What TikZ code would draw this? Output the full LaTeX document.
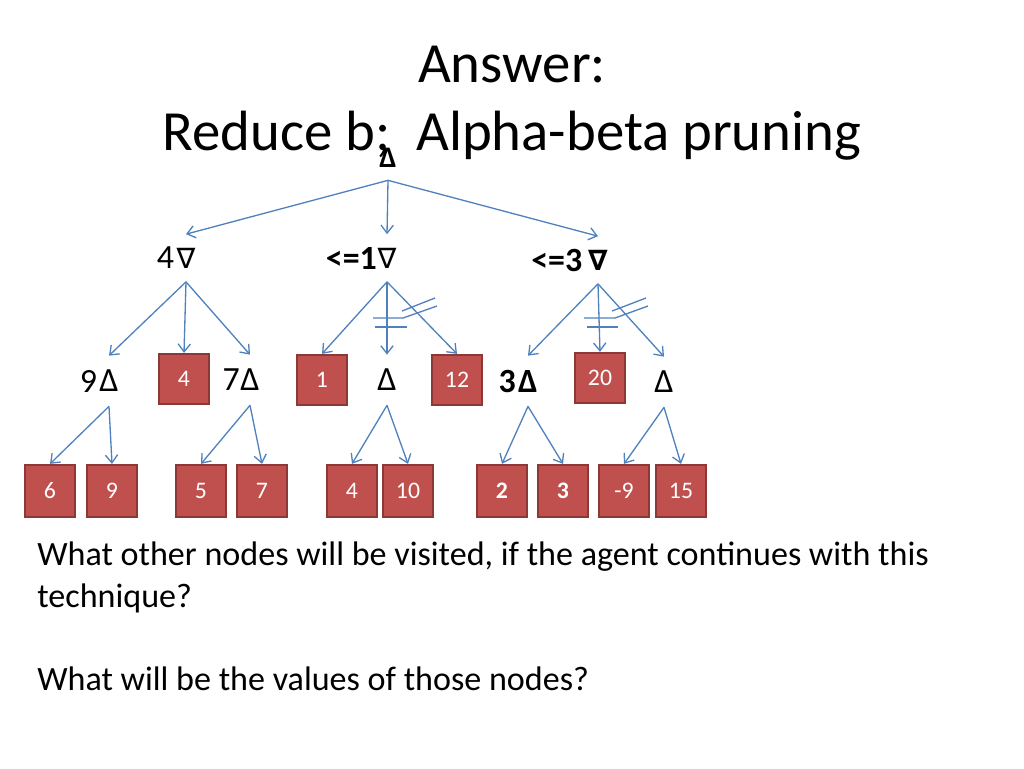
\documentclass[tikz,border=0pt]{standalone}
\usepackage{fontspec}
\setmainfont{Carlito}
\newfontfamily\symfont{DejaVu Sans}
\usetikzlibrary{arrows.meta}

\definecolor{boxred}{HTML}{C0504D}
\definecolor{boxedge}{HTML}{8C3836}
\definecolor{edgeblue}{HTML}{4F81BD}
\newcommand{\nablasym}{{\symfont\fontsize{16}{16}\selectfont\char"2207}}

\begin{document}
\begin{tikzpicture}[x=0.02cm, y=-0.02cm,
	leaf/.style={rectangle, draw=boxedge, fill=boxred, line width=1.3pt, minimum width=1cm, minimum height=1cm, text=white, font=\fontsize{13.5}{15}\selectfont},
	sym/.style={inner sep=0pt, minimum height=1cm, font=\fontsize{19.3}{22}\selectfont},
	num/.style={inner sep=1pt, font=\fontsize{19.3}{22}\selectfont},
	edge/.style={draw=edgeblue, line width=0.75pt, -{Straight Barb[length=4.5pt,width=7pt]}},
	cut/.style={draw=edgeblue, line width=0.75pt}]
	\useasboundingbox (0,0) rectangle (1024,768);
	
	% title
	\node[anchor=base, font=\fontsize{32.3}{38}\selectfont] (ttl1) at (512,82) {Answer:};
	\node[anchor=base, font=\fontsize{32.3}{38}\selectfont] (ttl2) at (512,150) {Reduce b;~~Alpha-beta pruning};
	
	% tree
	\node[sym, minimum height=0.88cm, font=\fontsize{17}{20}\selectfont\bfseries] (root) at (388,158) {Δ};
	
	\node[sym, minimum height=0.94cm, label={[num]left:4}] (min1) at (186,258) {\nablasym};
	\node[sym, minimum height=0.94cm, label={[num, font=\fontsize{19.3}{22}\selectfont\bfseries, inner sep=0pt]left:<=1}] (min2) at (387,258) {\nablasym};
	\node[sym, minimum height=0.94cm, label={[num, font=\fontsize{19.3}{22}\selectfont\bfseries, inner sep=3pt]left:<=3}] (min3) at (598,260) {\bfseries\nablasym};
	
	\node[sym, label={[num]left:9}] (max1) at (109,381) {Δ};
	\node[leaf] (b4) at (184,379) {4};
	\node[sym, label={[num, inner sep=0pt]left:7}] (max2) at (250,380) {Δ};
	\node[leaf] (b1) at (322,380) {1};
	\node[sym] (max3) at (387,380) {Δ};
	\node[leaf] (b12) at (457,380) {12};
	\node[sym, font=\fontsize{19.3}{22}\selectfont\bfseries, label={[num, font=\fontsize{19.3}{22}\selectfont\bfseries]left:3}] (max4) at (528,381) {Δ};
	\node[leaf] (b20) at (600,378) {20};
	\node[sym] (max5) at (664,382) {Δ};
	
	\node[leaf, minimum height=1.04cm] (l6) at (50,491) {6};
	\node[leaf, minimum height=1.04cm] (l9) at (112,491) {9};
	\node[leaf, minimum height=1.04cm] (l5) at (201,491) {5};
	\node[leaf, minimum height=1.04cm] (l7) at (262,491) {7};
	\node[leaf, minimum height=1.04cm] (l4) at (352,491) {4};
	\node[leaf, minimum height=1.04cm] (l10) at (408,491) {10};
	\node[leaf, minimum height=1.04cm, font=\fontsize{13.5}{15}\selectfont\bfseries] (l2) at (502,491) {2};
	\node[leaf, minimum height=1.04cm, font=\fontsize{13.5}{15}\selectfont\bfseries] (l3) at (563,491) {3};
	\node[leaf, minimum height=1.04cm] (lm9) at (624,491) {-9};
	\node[leaf, minimum height=1.04cm] (l15) at (681,491) {15};
	
	\draw[edge] (root.south) -- (min1.north);
	\draw[edge] (root.south) -- (min2.north);
	\draw[edge] (root.south) -- (min3.north);
	
	\draw[edge] (min1.south) -- (max1.north);
	\draw[edge] (min1.south) -- (b4.north);
	\draw[edge] (min1.south) -- (max2.north);
	\draw[edge] (min2.south) -- (b1.north);
	\draw[edge] (min2.south) -- (max3.north);
	\draw[edge] (min2.south) -- (b12.north);
	\draw[edge] (min3.south) -- (max4.north);
	\draw[edge] (min3.south) -- (b20.north);
	\draw[edge] (min3.south) -- (max5.north);
	
	\draw[edge] (max1.south) -- (l6.north);
	\draw[edge] (max1.south) -- (l9.north);
	\draw[edge] (max2.south) -- (l5.north);
	\draw[edge] (max2.south) -- (l7.north);
	\draw[edge] (max3.south) -- (l4.north);
	\draw[edge] (max3.south) -- (l10.north);
	\draw[edge] (max4.south) -- (l2.north);
	\draw[edge] (max4.south) -- (l3.north);
	\draw[edge] (max5.south) -- (lm9.north);
	\draw[edge] (max5.south) -- (l15.north);
	
	% pruned branches
	\draw[cut] (373,318) -- (403,318) -- (437,306);
	\draw[cut] (375,327) -- (407,327);
	\draw[cut] (402,311) -- (435,298);
	\draw[cut] (584,318) -- (615,318) -- (648,306);
	\draw[cut] (587,327) -- (618,327);
	\draw[cut] (612,311) -- (646,298);
	
	% questions
	\node[anchor=base west, inner sep=0pt, font=\fontsize{19.4}{23}\selectfont] (q1) at (37,565) {What other nodes will be visited, if the agent continues with this};
	\node[anchor=base west, inner sep=0pt, font=\fontsize{19.4}{23}\selectfont] (q1b) at (37,607) {technique?};
	\node[anchor=base west, inner sep=0pt, font=\fontsize{19.4}{23}\selectfont] (q2) at (37,690) {What will be the values of those nodes?};
\end{tikzpicture}
\end{document}
